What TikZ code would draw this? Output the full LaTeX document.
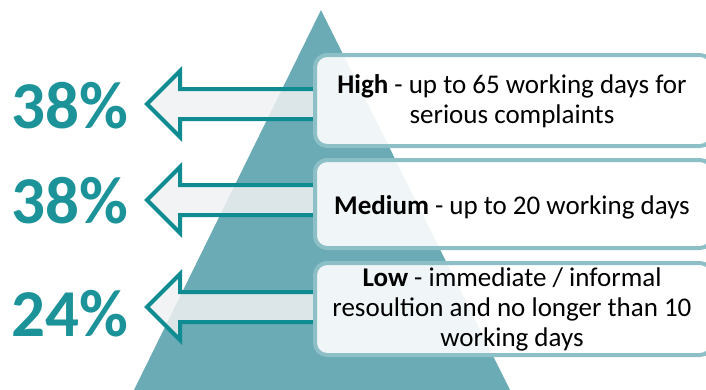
\documentclass[tikz,border=0pt]{standalone}
\usepackage{fontspec}
\setmainfont{Carlito}
\begin{document}
\begin{tikzpicture}[x=1pt,y=-1pt,
  pct/.style={text=pctc, font=\fontsize{67}{70}\selectfont\bfseries, inner sep=0pt},
  boxtxt/.style={text=black, font=\fontsize{27}{30}\selectfont, align=center, inner sep=0pt},
  lvlbox/.style={draw=boxc, line width=4pt, fill=white, fill opacity=0.9, draw opacity=1, rounded corners=12pt},
  arr/.style={draw=arrc, line width=4pt, fill=arrf, fill opacity=0.85, draw opacity=1, line join=miter}]
\definecolor{tri}{HTML}{6AABB5}
\definecolor{pctc}{HTML}{1B9399}
\definecolor{boxc}{HTML}{8DBFC6}
\definecolor{arrc}{HTML}{0E8C92}
\definecolor{arrf}{HTML}{F0F1F2}
\useasboundingbox (0,0) rectangle (706,389);
\begin{scope}
\clip (0,0) rectangle (706,389);
% pyramid
\fill[tri] (321,10) -- (511,392) -- (133,392) -- cycle;
% arrows
\foreach \yc in {104,200,307}{
  \path[arr] (147,\yc) -- (180,\yc-33) -- (180,\yc-15) -- (315,\yc-15) -- (315,\yc+15) -- (180,\yc+15) -- (180,\yc+33) -- cycle;
}
% boxes
\path[lvlbox] (315,55) rectangle (712,146);
\path[lvlbox] (315,160) rectangle (712,248);
\path[lvlbox] (315,263) rectangle (712,355);
\end{scope}
% texts
\node[boxtxt] (high) at (512,101) {\textbf{High} - up to 65 working days for\\serious complaints};
\node[boxtxt] (med) at (512,207) {\textbf{Medium} - up to 20 working days};
\node[boxtxt] (low) at (512,309) {\textbf{Low} - immediate / informal\\resoultion and no longer than 10\\working days};
\node[pct] (p1) at (70,106) {38\%};
\node[pct] (p2) at (70,201) {38\%};
\node[pct] (p3) at (70,314) {24\%};
\end{tikzpicture}
\end{document}
